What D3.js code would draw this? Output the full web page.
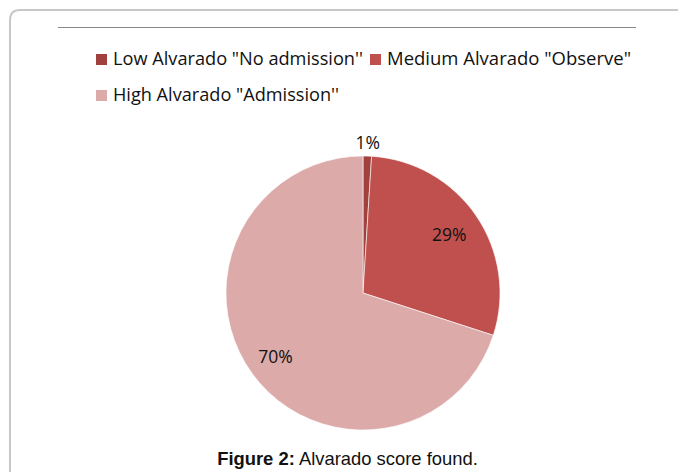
<!DOCTYPE html>
<html><head><meta charset="utf-8">
<script src="https://cdn.jsdelivr.net/npm/d3@7"></script>
<style>body{margin:0;background:#fff}svg{display:block}</style>
</head><body>
<svg id="c" width="678" height="472"></svg>
<script>
const categories = ['Low Alvarado "No admission\'\'', 'Medium Alvarado "Observe"', 'High Alvarado "Admission\'\''];
const values = [1, 29, 70];
const labels = ["1%", "29%", "70%"];
const colors = ["#A0413E", "#C0504D", "#DBAAA9"];

const svg = d3.select("#c");

// frame
svg.append("path")
  .attr("d", "M10,472 L10,20 Q10,10 20,10 L678,10")
  .attr("fill", "none").attr("stroke", "#c8c8c8").attr("stroke-width", 2);
svg.append("line").attr("x1", 58).attr("x2", 636).attr("y1", 27.5).attr("y2", 27.5)
  .attr("stroke", "#888").attr("stroke-width", 1);

const font = "'Open Sans', Lato, sans-serif";

// legend layout (x, baseline y, text width)
const legendPos = [[96, 65, 250], [370, 65, 244], [96, 101, 226]];
const leg = svg.append("g");
categories.forEach((c, i) => {
  const [x, y, w] = legendPos[i];
  leg.append("rect").attr("x", x).attr("y", y - 11).attr("width", 11).attr("height", 11).attr("fill", colors[i]);
  leg.append("text").attr("x", x + 17).attr("y", y).attr("font-family", font)
    .attr("font-size", 18.5).attr("fill", "#111")
    .attr("textLength", w).attr("lengthAdjust", "spacingAndGlyphs").text(c);
});

// pie
const cx = 363, cy = 293, r = 137;
const pie = d3.pie().sort(null).value(d => d)(values);
const arc = d3.arc().innerRadius(0).outerRadius(r);
const g = svg.append("g").attr("transform", `translate(${cx},${cy})`);
g.selectAll("path").data(pie).join("path")
  .attr("d", arc).attr("fill", (d, i) => colors[i])
  .attr("stroke", "#fff").attr("stroke-width", 0.6);

const labelR = [r + 13, r * 0.76, r * 0.79];
g.selectAll("text.lbl").data(pie).join("text").attr("class", "lbl")
  .attr("transform", (d, i) => `translate(${d3.arc().innerRadius(labelR[i]).outerRadius(labelR[i]).centroid(d)})`)
  .attr("text-anchor", "middle").attr("dy", "0.36em")
  .attr("font-family", font).attr("font-size", 17.5).attr("fill", "#111")
  .text((d, i) => labels[i]);

// caption
const cap = svg.append("text").attr("x", 347.5).attr("y", 465).attr("text-anchor", "middle")
  .attr("font-family", "'Liberation Sans', Arial, sans-serif").attr("font-size", 18.4).attr("fill", "#111");
cap.append("tspan").attr("font-weight", "bold").text("Figure 2:");
cap.append("tspan").text(" Alvarado score found.");
</script>
</body></html>
